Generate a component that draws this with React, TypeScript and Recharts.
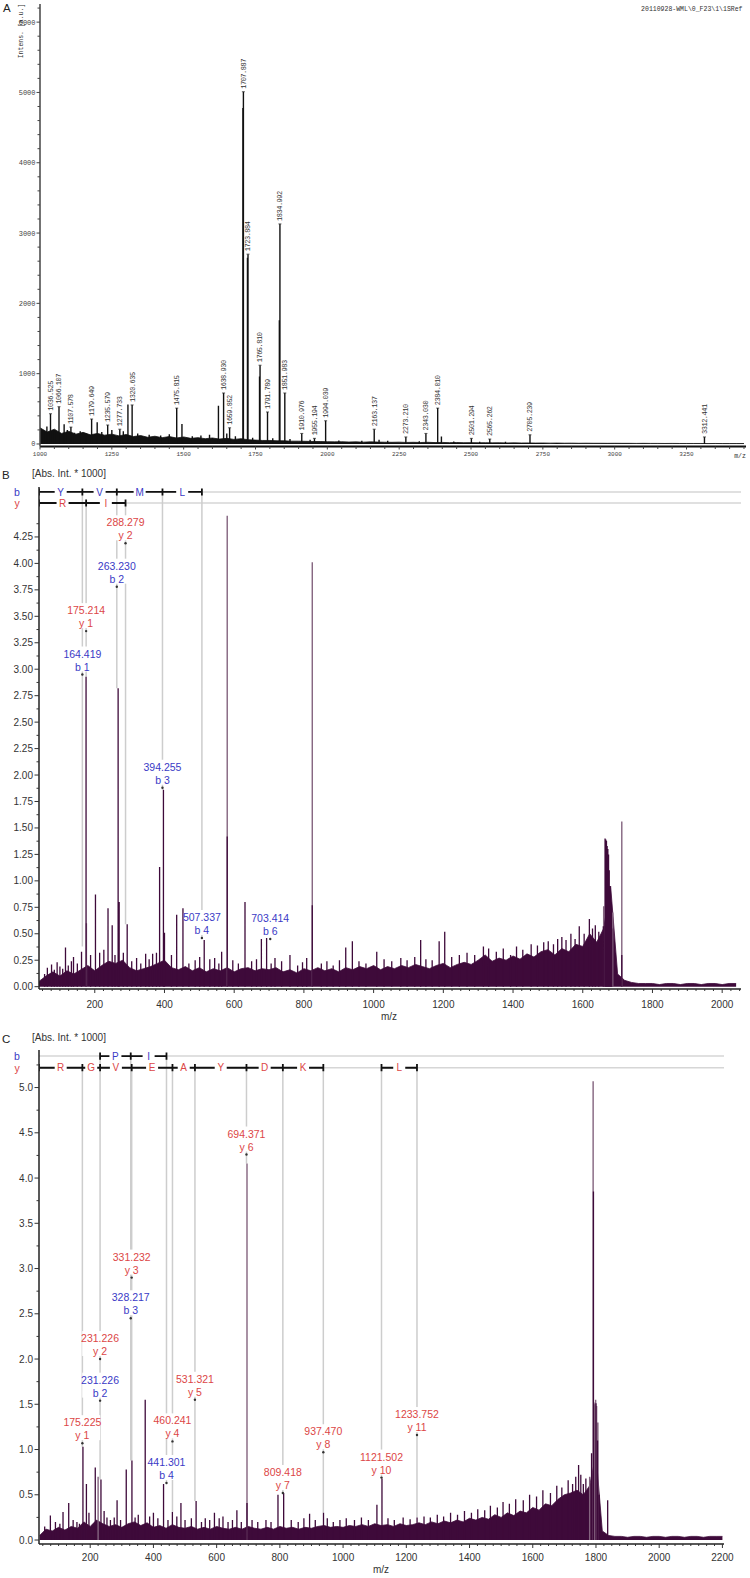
import React from 'react';
import { ComposedChart, XAxis, YAxis, Line, Area, Scatter } from 'recharts';

const SANS = '"Liberation Sans", Arial, sans-serif';
const MONO = '"Liberation Mono", "DejaVu Sans Mono", monospace';
const PLUM = '#3e0a3a';
const PLUM_LIGHT = '#84647f';
const RED = '#dc4646';
const BLUE = '#3a3ac6';
const GUIDE = '#cdcdcd';

// ---------- A: survey spectrum ----------
const aPeakMz = [1036.525, 1066.107, 1107.578, 1179.649, 1235.579, 1277.733, 1320.635, 1475.815, 1638.93, 1659.852, 1707.887, 1723.884, 1765.81, 1791.789, 1834.992, 1851.983, 1910.976, 1955.194, 1994.039, 2163.137, 2273.21, 2343.03, 2384.01, 2501.294, 2565.262, 2705.239, 3312.441];
const aPeakInt = [430, 530, 240, 355, 270, 210, 555, 510, 725, 230, 5010, 2700, 1120, 455, 3130, 725, 150, 80, 330, 210, 100, 150, 510, 80, 70, 130, 100];
const aOtherPeaks: [number, number][] = [
  [1012, 190], [1024, 250], [1050, 180], [1084, 280], [1095, 200], [1120, 160], [1140, 180], [1160, 150], [1199, 310], [1215, 170],
  [1250, 200], [1290, 180], [1306, 560], [1340, 150], [1380, 130], [1420, 120], [1450, 140], [1494, 285], [1530, 110], [1560, 120],
  [1590, 130], [1621, 545], [1650, 150], [1680, 110], [1706, 4780], [1722, 2650], [1740, 90], [1764, 960], [1810, 80], [1833, 1760],
  [1870, 70], [1940, 60], [2040, 50], [2120, 45], [2180, 60], [2210, 45], [2320, 40], [2397, 105], [2440, 35], [2530, 30], [2620, 30],
];
const aNoiseStart = 1000;
const aNoiseStep = 25;
const aNoise = [
  230, 170, 210, 150, 180, 140, 165, 130, 150, 125,
  140, 115, 135, 105, 120, 95, 110, 90, 105, 85,
  100, 80, 90, 75, 85, 70, 80, 65, 75, 60,
  55, 50, 50, 45, 45, 40, 40, 38, 35, 35,
  32, 30, 32, 28, 30, 26, 30, 27, 25, 24,
  26, 22, 24, 21, 24, 20, 22, 19, 21, 18,
  19, 17, 18, 16, 17, 15, 16, 14, 15, 13,
  14, 12, 13, 11, 12, 10, 11, 10, 10, 9,
  10, 9, 9, 8, 9, 8, 8, 7, 8, 7,
  7, 7, 7, 6, 7, 6, 6, 6, 6,
];
const aXLabels = [1000, 1250, 1500, 1750, 2000, 2250, 2500, 2750, 3000, 3250];
const aYLabels = [0, 1000, 2000, 3000, 4000, 5000, 6000];
const A_XDOM: [number, number] = [1000, 3457];
const A_YDOM: [number, number] = [-36, 6258];

// ---------- B: MS/MS spectrum ----------
const bNoiseStart = 40;
const bNoiseStep = 20;
const bNoise = [
  0.05, 0.10, 0.14, 0.10, 0.15, 0.12, 0.16, 0.20, 0.15, 0.20,
  0.24, 0.22, 0.25, 0.18, 0.15, 0.17, 0.19, 0.22, 0.25, 0.18,
  0.16, 0.19, 0.15, 0.18, 0.14, 0.17, 0.15, 0.18, 0.14, 0.17,
  0.18, 0.15, 0.17, 0.16, 0.18, 0.14, 0.16, 0.13, 0.17, 0.15,
  0.18, 0.15, 0.17, 0.14, 0.18, 0.16, 0.19, 0.17, 0.20, 0.16,
  0.19, 0.17, 0.20, 0.18, 0.21, 0.19, 0.17, 0.20, 0.22, 0.18,
  0.21, 0.23, 0.21, 0.25, 0.30, 0.24, 0.27, 0.25, 0.29, 0.26,
  0.31, 0.28, 0.33, 0.35, 0.30, 0.36, 0.33, 0.40, 0.38, 0.50,
  0.42, 0.55, 0.95, 0.12, 0.06, 0.04, 0.03, 0.03, 0.03, 0.02,
  0.03, 0.03, 0.02, 0.03, 0.03, 0.02, 0.03, 0.03, 0.02, 0.03, 0.03,
];
const bDark: [number, number][] = [
  [76, 0.21], [92, 0.23], [116, 0.37], [133, 0.24], [139, 0.28], [162, 0.33], [175, 2.93], [202, 0.87], [214, 0.32], [238, 0.74],
  [250, 0.58], [267, 2.82], [270, 0.80], [293, 0.59], [320, 0.27], [346, 0.31], [366, 0.31], [377, 0.32], [386, 1.13], [397, 1.86],
  [400, 0.51], [435, 0.68], [453, 0.74], [501, 0.28], [514, 0.44], [544, 0.27], [564, 0.33], [580, 1.42], [631, 0.80], [678, 0.45],
  [693, 0.46], [717, 0.27], [760, 0.30], [808, 0.27], [824, 0.77], [920, 0.37], [939, 0.43], [1009, 0.33], [1135, 0.44], [1188, 0.43],
  [1204, 0.52], [1315, 0.38], [1393, 0.30], [1470, 0.39], [1501, 0.43], [1540, 0.47], [1590, 0.57], [1619, 0.64], [1636, 0.58], [1659, 0.57],
  [1664, 1.40], [1666, 1.39], [1668, 1.38], [1670, 1.33], [1672, 1.30], [1674, 1.25], [1676, 1.10], [1678, 0.95], [1680, 0.80], [1683, 0.55],
  [1712, 0.30],
];
// small noise spikes riding on the baseline
const bSpikes: [number, number][] = [
  [56, 0.12], [64, 0.18], [84, 0.16], [100, 0.19], [108, 0.17], [124, 0.20], [150, 0.22], [188, 0.30], [226, 0.35], [258, 0.30],
  [282, 0.32], [306, 0.24], [332, 0.22], [356, 0.26], [420, 0.30], [470, 0.22], [488, 0.25], [530, 0.26], [556, 0.22], [596, 0.25],
  [612, 0.22], [650, 0.24], [664, 0.26], [706, 0.22], [736, 0.24], [782, 0.20], [796, 0.23], [850, 0.22], [866, 0.24], [884, 0.20],
  [902, 0.25], [958, 0.24], [978, 0.22], [1030, 0.26], [1052, 0.24], [1078, 0.27], [1096, 0.25], [1118, 0.28], [1150, 0.26], [1168, 0.25],
  [1224, 0.28], [1246, 0.30], [1268, 0.32], [1290, 0.30], [1330, 0.36], [1352, 0.33], [1372, 0.36], [1410, 0.38], [1428, 0.35], [1452, 0.40],
  [1488, 0.42], [1516, 0.40], [1528, 0.45], [1552, 0.44], [1566, 0.50], [1578, 0.45], [1604, 0.50], [1628, 0.55], [1646, 0.52],
];
const bLight: [number, number][] = [
  [176, 0.60], [580, 4.45], [824, 4.01], [1660, 0.76], [1686, 0.70], [1712, 1.56],
];
const bIons = [
  { mz: 164.419, v: 2.95, peak: 0.38, ion: 'b 1', row: 'b' },
  { mz: 175.214, v: 3.36, peak: 2.93, ion: 'y 1', row: 'y' },
  { mz: 263.23, v: 3.78, peak: 2.82, ion: 'b 2', row: 'b' },
  { mz: 288.279, v: 4.19, peak: 0.59, ion: 'y 2', row: 'y' },
  { mz: 394.255, v: 1.88, peak: 1.86, ion: 'b 3', row: 'b' },
  { mz: 507.337, v: 0.46, peak: 0.46, ion: 'b 4', row: 'b' },
  { mz: 703.414, v: 0.45, peak: null, ion: 'b 6', row: 'b' },
];
const bLadderB = [40, 164.419, 263.23, 394.255, 507.337];
const bLettersB = ['Y', 'V', 'M', 'L'];
const bLadderY = [40, 175.214, 288.279];
const bLettersY = ['R', 'I'];
const bXLabels = [200, 400, 600, 800, 1000, 1200, 1400, 1600, 1800, 2000];
const bYLabels = [0, 0.25, 0.5, 0.75, 1, 1.25, 1.5, 1.75, 2, 2.25, 2.5, 2.75, 3, 3.25, 3.5, 3.75, 4, 4.25];
const B_XDOM: [number, number] = [40, 2054];
const B_YDOM: [number, number] = [-0.022, 4.722];
const B_ROW_B = 4.675;
const B_ROW_Y = 4.571;

// ---------- C: MS/MS spectrum ----------
const cNoiseStart = 40;
const cNoiseStep = 20;
const cNoise = [
  0.05, 0.12, 0.10, 0.14, 0.11, 0.15, 0.13, 0.20, 0.15, 0.22,
  0.18, 0.15, 0.17, 0.14, 0.18, 0.20, 0.16, 0.19, 0.14, 0.16,
  0.13, 0.17, 0.14, 0.13, 0.15, 0.12, 0.14, 0.12, 0.15, 0.13,
  0.12, 0.14, 0.12, 0.15, 0.13, 0.12, 0.14, 0.12, 0.15, 0.13,
  0.14, 0.12, 0.14, 0.13, 0.15, 0.16, 0.14, 0.15, 0.14, 0.16,
  0.15, 0.17, 0.15, 0.18, 0.16, 0.17, 0.15, 0.18, 0.16, 0.17,
  0.19, 0.17, 0.20, 0.18, 0.21, 0.19, 0.22, 0.20, 0.24, 0.22,
  0.25, 0.23, 0.28, 0.25, 0.30, 0.27, 0.32, 0.30, 0.36, 0.33,
  0.40, 0.38, 0.45, 0.50, 0.52, 0.55, 0.50, 0.60, 0.95, 0.10,
  0.05, 0.04, 0.04, 0.03, 0.04, 0.04, 0.03, 0.04, 0.04, 0.03,
  0.04, 0.04, 0.03, 0.04, 0.04, 0.03, 0.04, 0.04, 0.04,
];
const cDark: [number, number][] = [
  [74, 0.27], [114, 0.31], [132, 0.41], [166, 0.18], [177, 1.03], [188, 0.62], [216, 0.80], [234, 0.67], [253, 0.25], [285, 0.44],
  [314, 0.78], [332, 0.88], [374, 1.55], [400, 0.30], [432, 0.62], [460, 0.31], [487, 0.41], [535, 0.43], [564, 0.24], [593, 0.30],
  [620, 0.26], [664, 0.33], [696, 0.41], [794, 0.50], [812, 0.52], [894, 0.29], [938, 0.30], [969, 0.20], [1107, 0.39], [1123, 0.68],
  [1234, 0.25], [1745, 0.83], [1760, 0.62], [1786, 0.96], [1792, 3.85], [1800, 1.51], [1805, 1.10], [1810, 0.50], [1837, 0.44],
];
const cSpikes: [number, number][] = [
  [56, 0.15], [90, 0.20], [104, 0.18], [146, 0.22], [158, 0.20], [196, 0.30], [244, 0.32], [264, 0.22], [276, 0.25], [296, 0.22],
  [342, 0.25], [352, 0.28], [388, 0.26], [414, 0.24], [446, 0.22], [474, 0.26], [500, 0.22], [520, 0.24], [552, 0.20], [578, 0.22],
  [608, 0.24], [636, 0.20], [650, 0.22], [678, 0.20], [712, 0.22], [730, 0.20], [756, 0.22], [772, 0.20], [836, 0.22], [858, 0.20],
  [876, 0.24], [912, 0.22], [950, 0.24], [990, 0.22], [1010, 0.24], [1036, 0.22], [1058, 0.25], [1080, 0.22], [1142, 0.24], [1162, 0.22],
  [1190, 0.25], [1212, 0.23], [1256, 0.26], [1276, 0.25], [1298, 0.28], [1318, 0.26], [1340, 0.30], [1362, 0.28], [1384, 0.32], [1406, 0.30],
  [1426, 0.34], [1448, 0.33], [1466, 0.38], [1488, 0.36], [1506, 0.42], [1526, 0.40], [1546, 0.45], [1570, 0.44], [1590, 0.50], [1612, 0.48],
  [1632, 0.55], [1656, 0.52], [1676, 0.60], [1692, 0.58], [1712, 0.66], [1726, 0.62], [1736, 0.70], [1752, 0.72], [1768, 0.68], [1774, 0.50],
];
const cLight: [number, number][] = [
  [225, 0.70], [696, 4.16], [1780, 0.70],
  [1791, 5.07], [1794, 1.50], [1797, 1.52], [1799, 1.55], [1802, 1.48], [1806, 1.30],
];
const cIons = [
  { mz: 175.225, v: 1.07, peak: 1.03, ion: 'y 1', row: 'y' },
  { mz: 231.226, v: 2.0, peak: 0.67, ion: 'y 2', row: 'y' },
  { mz: 231.226, v: 1.54, peak: 0.67, ion: 'b 2', row: 'b' },
  { mz: 331.232, v: 2.9, peak: 0.88, ion: 'y 3', row: 'y' },
  { mz: 328.217, v: 2.45, peak: 0.88, ion: 'b 3', row: 'b' },
  { mz: 441.301, v: 0.63, peak: 0.63, ion: 'b 4', row: 'b' },
  { mz: 460.241, v: 1.09, peak: 0.31, ion: 'y 4', row: 'y' },
  { mz: 531.321, v: 1.55, peak: 0.43, ion: 'y 5', row: 'y' },
  { mz: 694.371, v: 4.26, peak: 4.16, ion: 'y 6', row: 'y' },
  { mz: 809.418, v: 0.52, peak: 0.52, ion: 'y 7', row: 'y' },
  { mz: 937.47, v: 0.97, peak: 0.3, ion: 'y 8', row: 'y' },
  { mz: 1121.502, v: 0.69, peak: 0.68, ion: 'y 10', row: 'y' },
  { mz: 1233.752, v: 1.16, peak: 0.25, ion: 'y 11', row: 'y' },
];
const cLadderB = [231.226, 328.217, 441.301];
const cLettersB = ['P', 'I'];
const cLadderY = [38, 175.225, 231.226, 331.232, 460.241, 531.321, 694.371, 809.418, 937.47];
const cLettersY = ['R', 'G', 'V', 'E', 'A', 'Y', 'D', 'K'];
const cLadderY2 = [1121.502, 1233.752];
const cLettersY2 = ['L'];
const cXLabels = [200, 400, 600, 800, 1000, 1200, 1400, 1600, 1800, 2000, 2200];
const cYLabels = [0, 0.5, 1, 1.5, 2, 2.5, 3, 3.5, 4, 4.5, 5];
const C_XDOM: [number, number] = [38, 2205];
const C_YDOM: [number, number] = [-0.044, 5.415];
const C_ROW_B = 5.348;
const C_ROW_Y = 5.219;

// ---------- helpers ----------
type Row = { [k: string]: any };
const seg = (x1: number, y1: number, x2: number, y2: number): Row[] => [
  { mz: x1, v: y1 },
  { mz: x2, v: y2 },
  { mz: x2, v: null },
];
const stickRows = (peaks: [number, number][]) => peaks.flatMap(([m, h]) => seg(m, 0, m, h));
const noiseRows = (vals: number[], start: number, step: number) => vals.map((v, i) => ({ mz: start + i * step, noise: v }));
const tickList = (from: number, to: number, step: number) => {
  const out: number[] = [];
  for (let v = from; v <= to + 1e-9; v += step) out.push(+v.toFixed(4));
  return out;
};
const near = (list: number[], v: number) => list.some((t) => Math.abs(t - v) < 1e-6);

function ladder(pos: number[], letters: string[], rowY: number, cap: number, color: string) {
  const rows: Row[] = [];
  const marks: Row[] = [];
  letters.forEach((t, i) => {
    rows.push(...seg(pos[i], rowY, pos[i + 1], rowY));
    marks.push({ mz: (pos[i] + pos[i + 1]) / 2, v: rowY, t, color });
  });
  pos.forEach((p) => rows.push(...seg(p, rowY - cap, p, rowY + cap)));
  return { rows, marks };
}

const ionMarks = (ions: typeof bIons) =>
  ions.map((d) => ({ ...d, text: d.mz.toFixed(3), color: d.row === 'b' ? BLUE : RED }));
const guideRows = (ions: typeof bIons, rowB: number, rowY: number) =>
  ions.filter((d) => d.peak !== null).flatMap((d) => seg(d.mz, d.row === 'b' ? rowB : rowY, d.mz, d.peak as number));

// ---------- shapes & ticks ----------
const XTick = (p: any) => {
  const { x, y, payload, labels, fmt, len, minorLen, labelDy, size, family, color } = p;
  const major = near(labels, payload.value);
  return (
    <g>
      <line x1={x} x2={x} y1={y} y2={y + (major ? len : minorLen)} stroke={color} strokeWidth={1} />
      {major && (
        <text x={x} y={y + labelDy} textAnchor="middle" fontSize={size} fontFamily={family} fill={color}>
          {fmt(payload.value)}
        </text>
      )}
    </g>
  );
};

const YTick = (p: any) => {
  const { x, y, payload, labels, fmt, len, minorLen, gap, size, family, color } = p;
  const major = near(labels, payload.value);
  return (
    <g>
      <line x1={x - (major ? len : minorLen)} x2={x} y1={y} y2={y} stroke={color} strokeWidth={1} />
      {major && (
        <text x={x - len - gap} y={y} dy="0.35em" textAnchor="end" fontSize={size} fontFamily={family} fill={color}>
          {fmt(payload.value)}
        </text>
      )}
    </g>
  );
};

const MassTag = (p: any) => {
  const { cx, cy, payload } = p;
  const y0 = cy - 3;
  return (
    <g>
      <line x1={cx - 1.5} x2={cx + 1.5} y1={cy} y2={cy} stroke="#333" strokeWidth={0.8} />
      <text x={cx} y={y0} dy="0.35em" transform={`rotate(-90 ${cx} ${y0})`} fontSize={7} fontFamily={MONO} fill="#333" letterSpacing={-0.5}>
        {payload.t}
      </text>
    </g>
  );
};

const IonLabel = (p: any) => {
  const { cx, cy, payload: d } = p;
  const w = d.text.length * 5.1;
  return (
    <g>
      <rect x={cx - w / 2} y={cy - 28} width={w} height={25} fill="#fff" />
      <text x={cx} y={cy - 17} textAnchor="middle" fontSize={10.5} fontFamily={SANS} fill={d.color}>{d.text}</text>
      <text x={cx} y={cy - 4} textAnchor="middle" fontSize={10.5} fontFamily={SANS} fill={d.color}>{d.ion}</text>
      <circle cx={cx} cy={cy} r={1.2} fill="#333" />
    </g>
  );
};

const LadderLetter = (p: any) => {
  const { cx, cy, payload } = p;
  return (
    <g>
      <rect x={cx - 6} y={cy - 5} width={12} height={10} fill="#fff" />
      <text x={cx} y={cy} dy="0.36em" textAnchor="middle" fontSize={10} fontFamily={SANS} fill={payload.color}>
        {payload.t}
      </text>
    </g>
  );
};

const T = ({ x, y, children, size = 10, color = '#333', family = SANS, anchor = 'start', rotate = 0 }: any) => (
  <div
    style={{
      position: 'absolute', left: x, top: y, fontSize: size, color, fontFamily: family, lineHeight: 1, whiteSpace: 'nowrap',
      transform: `translate(${anchor === 'middle' ? '-50%' : anchor === 'end' ? '-100%' : '0'}, -50%) rotate(${rotate}deg)`,
    }}
  >
    {children}
  </div>
);

// ---------- built series ----------
const aRows = noiseRows(aNoise, aNoiseStart, aNoiseStep);
const aSticks = [...stickRows(aOtherPeaks), ...stickRows(aPeakMz.map((m, i) => [m, aPeakInt[i]] as [number, number]))];
const aTags = aPeakMz.map((m, i) => ({ mz: m, v: aPeakInt[i], t: m.toFixed(3) }));

const bLadB = ladder(bLadderB, bLettersB, B_ROW_B, 0.034, BLUE);
const bLadY = ladder(bLadderY, bLettersY, B_ROW_Y, 0.034, RED);
const bRowLines = [...seg(B_XDOM[0], B_ROW_B, B_XDOM[1], B_ROW_B), ...seg(B_XDOM[0], B_ROW_Y, B_XDOM[1], B_ROW_Y)];

const cLadB = ladder(cLadderB, cLettersB, C_ROW_B, 0.04, BLUE);
const cLadY = ladder(cLadderY, cLettersY, C_ROW_Y, 0.04, RED);
const cLadY2 = ladder(cLadderY2, cLettersY2, C_ROW_Y, 0.04, RED);
const cRowLines = [...seg(C_XDOM[0], C_ROW_B, C_XDOM[1], C_ROW_B), ...seg(C_XDOM[0], C_ROW_Y, C_XDOM[1], C_ROW_Y)];

const fmtInt = (v: number) => String(v);

const MsmsPanel = ({ top, height, marginTop, marginRight, xAxisH, xDom, yDom, xTicks, xLabels, yTicks, yLabels, yFmt, labelDy, noise, light, dark, rowLines, guides, ladderRows, letters, ions }: any) => (
  <div style={{ position: 'absolute', left: 0, top }}>
    <ComposedChart width={750} height={height} data={noise} margin={{ top: marginTop, right: marginRight, bottom: 0, left: 0 }}>
      <XAxis
        dataKey="mz" type="number" domain={xDom} allowDataOverflow ticks={xTicks} interval={0} height={xAxisH}
        tickSize={0} tickMargin={0} tickLine={false} axisLine={{ stroke: '#222', strokeWidth: 1.5 }}
        tick={(p: any) => <XTick {...p} labels={xLabels} fmt={fmtInt} len={4} minorLen={2} labelDy={labelDy} size={10} family={SANS} color="#333" />}
      />
      <YAxis
        type="number" domain={yDom} allowDataOverflow ticks={yTicks} interval={0} width={39}
        tickSize={0} tickMargin={0} tickLine={false} axisLine={{ stroke: '#222', strokeWidth: 1.5 }}
        tick={(p: any) => <YTick {...p} labels={yLabels} fmt={yFmt} len={4.5} minorLen={2.5} gap={1.5} size={10} family={SANS} color="#333" />}
      />
      <Line data={rowLines} dataKey="v" stroke="#d6d6d6" strokeWidth={1.5} dot={false} activeDot={false} isAnimationActive={false} />
      <Line data={guides} dataKey="v" stroke={GUIDE} strokeWidth={1.5} dot={false} activeDot={false} isAnimationActive={false} />
      <Line data={light} dataKey="v" stroke={PLUM_LIGHT} strokeWidth={1.4} dot={false} activeDot={false} isAnimationActive={false} />
      <Area dataKey="noise" type="linear" stroke={PLUM} strokeWidth={0.8} fill={PLUM} fillOpacity={1} connectNulls dot={false} activeDot={false} isAnimationActive={false} />
      <Line data={dark} dataKey="v" stroke={PLUM} strokeWidth={1.3} dot={false} activeDot={false} isAnimationActive={false} />
      <Line data={ladderRows} dataKey="v" stroke="#111" strokeWidth={1.8} dot={false} activeDot={false} isAnimationActive={false} />
      <Scatter data={letters} dataKey="v" shape={LadderLetter} isAnimationActive={false} />
      <Scatter data={ions} dataKey="v" shape={IonLabel} isAnimationActive={false} />
    </ComposedChart>
  </div>
);

export default function App() {
  return (
    <div style={{ position: 'absolute', left: 0, top: 0, width: 750, height: 1578, background: '#fff', overflow: 'hidden' }}>
      {/* A */}
      <div style={{ position: 'absolute', left: 0, top: 0 }}>
        <ComposedChart width={750} height={466} data={aRows} margin={{ top: 4, right: 4, bottom: 0, left: 0 }}>
          <XAxis
            dataKey="mz" type="number" domain={A_XDOM} allowDataOverflow ticks={tickList(1000, 3450, 50)} interval={0} height={19.5}
            tickSize={0} tickMargin={0} tickLine={false} axisLine={{ stroke: '#111', strokeWidth: 2 }}
            tick={(p: any) => <XTick {...p} labels={aXLabels} fmt={fmtInt} len={3} minorLen={2.5} labelDy={9} size={6} family={MONO} color="#444" />}
          />
          <XAxis xAxisId="top" orientation="top" type="number" domain={A_XDOM} height={0} tick={false} tickLine={false} axisLine={{ stroke: '#8a8a8a', strokeWidth: 1.5 }} />
          <YAxis
            type="number" domain={A_YDOM} allowDataOverflow ticks={tickList(0, 6200, 200)} interval={0} width={40}
            tickSize={0} tickMargin={0} tickLine={false} axisLine={{ stroke: '#444', strokeWidth: 1.5 }}
            tick={(p: any) => <YTick {...p} labels={aYLabels} fmt={fmtInt} len={3.5} minorLen={2.5} gap={1} size={7} family={MONO} color="#444" />}
          />
          <YAxis yAxisId="right" orientation="right" type="number" domain={A_YDOM} width={0} tick={false} tickLine={false} axisLine={{ stroke: '#8a8a8a', strokeWidth: 1.5 }} />
          <Area dataKey="noise" type="linear" stroke="#111" strokeWidth={0.8} fill="#111" fillOpacity={1} connectNulls dot={false} activeDot={false} isAnimationActive={false} />
          <Line data={aSticks} dataKey="v" stroke="#111" strokeWidth={1.4} dot={false} activeDot={false} isAnimationActive={false} />
          <Scatter data={aTags} dataKey="v" shape={MassTag} isAnimationActive={false} />
        </ComposedChart>
      </div>
      <T x={3} y={9} size={11.5} color="#222">A</T>
      <T x={742.5} y={10} size={6.5} family={MONO} anchor="end" color="#333">20110928-WML\0_F23\1\1SRef</T>
      <T x={21.5} y={31} size={6.5} family={MONO} anchor="middle" rotate={-90} color="#333">Intens. [a.u.]</T>
      <T x={740} y={456.5} size={6.5} family={MONO} anchor="middle" color="#333">m/z</T>

      {/* B */}
      <MsmsPanel
        top={460} height={570} marginTop={27} marginRight={9} xAxisH={41}
        xDom={B_XDOM} yDom={B_YDOM}
        xTicks={tickList(50, 2050, 25)} xLabels={bXLabels}
        yTicks={tickList(0, 4.375, 0.125)} yLabels={bYLabels} yFmt={(v: number) => v.toFixed(2)}
        labelDy={18.5}
        noise={noiseRows(bNoise, bNoiseStart, bNoiseStep)}
        light={stickRows(bLight)} dark={[...stickRows(bSpikes), ...stickRows(bDark)]}
        rowLines={bRowLines} guides={guideRows(bIons, B_ROW_B, B_ROW_Y)}
        ladderRows={[...bLadB.rows, ...bLadY.rows]} letters={[...bLadB.marks, ...bLadY.marks]}
        ions={ionMarks(bIons)}
      />
      <T x={2} y={475.5} size={11.5} color="#222">B</T>
      <T x={32} y={474} size={10} color="#333">[Abs. Int. * 1000]</T>
      <T x={17} y={492} size={10.5} anchor="middle" color={BLUE}>b</T>
      <T x={17} y={503} size={10.5} anchor="middle" color={RED}>y</T>
      <T x={389} y={1017} size={10} anchor="middle" color="#333">m/z</T>

      {/* C */}
      <MsmsPanel
        top={1025} height={553} marginTop={25} marginRight={26} xAxisH={34}
        xDom={C_XDOM} yDom={C_YDOM}
        xTicks={tickList(50, 2200, 25)} xLabels={cXLabels}
        yTicks={tickList(0, 5.25, 0.25)} yLabels={cYLabels} yFmt={(v: number) => v.toFixed(1)}
        labelDy={16.5}
        noise={noiseRows(cNoise, cNoiseStart, cNoiseStep)}
        light={stickRows(cLight)} dark={[...stickRows(cSpikes), ...stickRows(cDark)]}
        rowLines={cRowLines} guides={guideRows(cIons, C_ROW_B, C_ROW_Y)}
        ladderRows={[...cLadB.rows, ...cLadY.rows, ...cLadY2.rows]} letters={[...cLadB.marks, ...cLadY.marks, ...cLadY2.marks]}
        ions={ionMarks(cIons)}
      />
      <T x={2} y={1040} size={11.5} color="#222">C</T>
      <T x={32} y={1038} size={10} color="#333">[Abs. Int. * 1000]</T>
      <T x={17} y={1056} size={10.5} anchor="middle" color={BLUE}>b</T>
      <T x={17} y={1067.7} size={10.5} anchor="middle" color={RED}>y</T>
      <T x={381} y={1570} size={10} anchor="middle" color="#333">m/z</T>
    </div>
  );
}
